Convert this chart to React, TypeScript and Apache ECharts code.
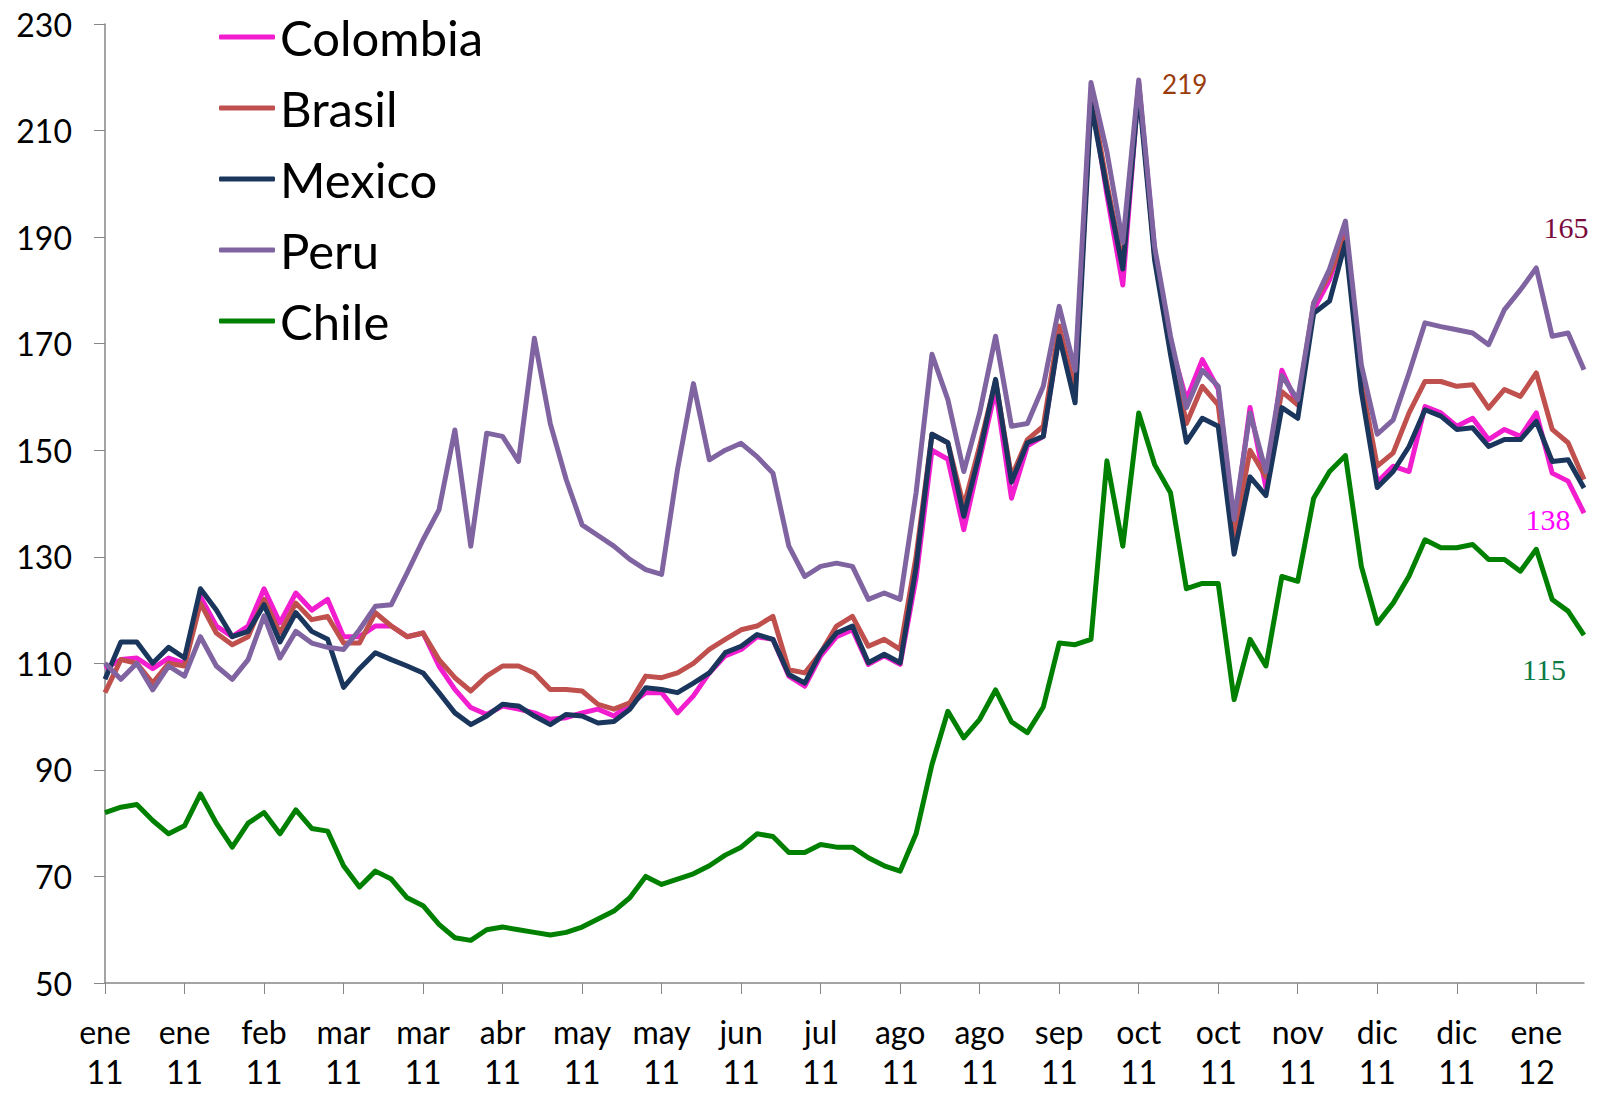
import React, { useEffect, useRef } from "react";
import * as echarts from "echarts";

const tickLabels = [
  "ene 11", "ene 11", "feb 11", "mar 11", "mar 11", "abr 11", "may 11", "may 11", "jun 11",
  "jul 11", "ago 11", "ago 11", "sep 11", "oct 11", "oct 11", "nov 11", "dic 11", "dic 11", "ene 12",
];

const colombia = [
  109, 110.7, 111, 109, 111, 110, 122.5, 117, 115, 117,
  124, 117.6, 123.2, 120, 122, 115, 115, 117, 117, 115,
  115.7, 109.5, 105.1, 101.7, 100.4, 102, 101.4, 100.7, 99.5, 99.8,
  100.7, 101.4, 100.1, 102.3, 104.5, 104.5, 100.7, 103.9, 108.2, 111.4,
  112.6, 115, 114.5, 107.6, 105.7, 111.4, 115, 116.3, 109.8, 111.4,
  109.8, 126, 150, 148.3, 135.1, 148.3, 161.4, 141, 150.8, 152.6,
  172, 160.7, 217, 198, 181, 218.5, 187.6, 170.1, 159.5, 167,
  161.5, 135.5, 158, 143, 165, 158.5, 176.4, 182, 191, 163.2,
  144, 147, 146, 158.2, 157, 154.5, 156, 152, 153.9, 152.6,
  157, 145.7, 144.2, 138.2,
];

const brasil = [
  104.5, 110.7, 110, 106.3, 110, 109.5, 121.3, 115.7, 113.5, 115,
  122, 115.7, 121.3, 118.2, 118.8, 113.8, 113.8, 119.5, 117, 115,
  115.7, 110.7, 107.3, 104.8, 107.6, 109.5, 109.5, 108.2, 105.1, 105.1,
  104.8, 102.3, 101.4, 102.6, 107.6, 107.3, 108.2, 110, 112.6, 114.5,
  116.3, 117, 118.8, 108.8, 108.2, 112, 117, 118.8, 113.2, 114.5,
  112.6, 130, 153, 151.4, 139.5, 150.8, 163, 145, 152, 154.5,
  173.3, 161.4, 217, 200, 185, 219, 186.4, 169.5, 155, 162,
  158.5, 134, 150, 145, 161, 158.5, 177.6, 183, 190, 163,
  147, 149.5, 157, 162.9, 162.9, 162, 162.3, 157.9, 161.4, 160.1,
  164.5, 153.9, 151.4, 144.5,
];

const mexico = [
  107, 114, 114, 110, 113, 111, 124, 120, 115, 116,
  121, 114, 119.5, 116, 114.5, 105.5, 109, 112, 110.7, 109.5,
  108.2, 104.5, 100.7, 98.5, 100.1, 102.3, 102, 100.1, 98.5, 100.4,
  100.1, 98.8, 99.1, 101.4, 105.4, 105.1, 104.5, 106.3, 108.2, 112,
  113.2, 115.4, 114.5, 107.9, 106.3, 112, 115.7, 117, 110.1, 111.7,
  110.1, 128, 153, 151.4, 137.6, 149.5, 163.3, 144, 151.4, 152.6,
  171.4, 158.9, 215, 199, 184, 217.6, 185.7, 168, 151.5, 156,
  154.5, 130.5, 145, 141.5, 158, 156, 175.7, 178, 189, 161,
  143, 146, 150.7, 157.6, 156.4, 153.9, 154.2, 150.7, 152, 152,
  155.4, 147.9, 148.2, 142.9,
];

const peru = [
  110, 107, 110, 105, 109.5, 107.6, 115, 109.5, 107, 110.7,
  118.9, 111, 116, 113.8, 113, 112.6, 116.3, 120.7, 121, 127,
  133.2, 138.8, 153.8, 132, 153.2, 152.6, 147.9, 171, 155, 144.5,
  136, 134, 132, 129.5, 127.6, 126.7, 146.4, 162.5, 148.2, 150,
  151.3, 148.8, 145.7, 132, 126.3, 128.2, 128.8, 128.2, 122, 123.2,
  122, 142, 168, 159.5, 146, 157, 171.4, 154.5, 155, 162,
  177, 165, 219, 206, 189, 219.5, 188.2, 171.4, 158, 165,
  162, 137, 157, 146, 164, 159.5, 177.6, 184, 193, 166,
  153, 155.7, 164.5, 173.9, 173.2, 172.6, 172, 169.8, 176.4, 180.1,
  184.2, 171.4, 172, 165.1,
];

const chile = [
  82, 83, 83.5, 80.5, 78, 79.5, 85.5, 80, 75.5, 80,
  82, 78, 82.5, 79, 78.5, 72, 68, 71, 69.5, 66,
  64.5, 61, 58.5, 58, 60, 60.5, 60, 59.5, 59, 59.5,
  60.5, 62, 63.5, 66, 70, 68.5, 69.5, 70.5, 72, 74,
  75.5, 78, 77.5, 74.5, 74.5, 76, 75.5, 75.5, 73.5, 72,
  71, 78, 91, 101, 96, 99.5, 105, 99, 97, 101.8,
  113.8, 113.5, 114.5, 148, 132, 157, 147.3, 142, 124, 125,
  125, 103.2, 114.5, 109.5, 126.3, 125.4, 141, 146, 149, 128.2,
  117.5, 121.3, 126.4, 133.2, 131.7, 131.7, 132.3, 129.5, 129.5, 127.3,
  131.4, 122, 119.8, 115.3,
];

const POINTS_PER_TICK = 5;
const categories = chile.map((_, i) => String(i));

function annotation(data: number[], idx: number, color: string, offset: number[], font: string, size: number) {
  return {
    symbol: "circle",
    symbolSize: 1,
    silent: true,
    itemStyle: { color: "rgba(0,0,0,0)" },
    data: [{ coord: [idx, data[idx]], value: data[idx] }],
    label: {
      show: true,
      position: "inside",
      offset,
      formatter: (p: any) => String(Math.round(p.value)),
      color,
      fontFamily: font,
      fontSize: size,
    },
  };
}

export default function App() {
  const ref = useRef<HTMLDivElement>(null);

  useEffect(() => {
    if (!ref.current) return;
    const chart = echarts.init(ref.current, undefined, { renderer: "svg" });
    const last = chile.length - 1;
    const mk = (name: string, data: number[], color: string, extra: any = {}) => ({
      name,
      type: "line",
      data,
      symbol: "none",
      showSymbol: false,
      lineStyle: { color, width: 5, join: "round" },
      itemStyle: { color },
      ...extra,
    });
    chart.setOption({
      animation: false,
      backgroundColor: "#ffffff",
      grid: { left: 105, right: 16, top: 24, bottom: 110, outerBoundsMode: "none", containLabel: false },
      legend: {
        orient: "vertical",
        left: 214,
        top: 6,
        icon: "roundRect",
        itemWidth: 56,
        itemHeight: 5,
        itemGap: 19,
        textStyle: { fontFamily: "Lato", fontSize: 49, lineHeight: 52, color: "#000" },
        data: ["Colombia", "Brasil", "Mexico", "Peru", "Chile"],
      },
      xAxis: {
        type: "category",
        boundaryGap: false,
        data: categories,
        axisLine: { lineStyle: { color: "#868686", width: 1.5 } },
        axisTick: { show: true, interval: POINTS_PER_TICK - 1, length: 11, lineStyle: { color: "#868686" } },
        axisLabel: {
          interval: POINTS_PER_TICK - 1,
          margin: 28,
          fontFamily: "Lato",
          fontSize: 32,
          lineHeight: 40,
          color: "#000",
          formatter: (_v: string, i: number) => {
            const t = tickLabels[Math.round(i / POINTS_PER_TICK)] || "";
            return t.replace(" ", "\n");
          },
        },
        splitLine: { show: false },
      },
      yAxis: {
        type: "value",
        min: 50,
        max: 230,
        interval: 20,
        axisLine: { show: true, lineStyle: { color: "#868686", width: 1.5 } },
        axisTick: { show: true, length: 11, lineStyle: { color: "#868686" } },
        axisLabel: { margin: 33, fontFamily: "Lato", fontSize: 32, color: "#000" },
        splitLine: { show: false },
      },
      series: [
        mk("Colombia", colombia, "#F21DCF", {
          markPoint: annotation(colombia, last, "#FF00FF", [-36, 6], "Liberation Serif", 30),
        }),
        mk("Brasil", brasil, "#C0504D", {
          markPoint: annotation(brasil, 65, "#9A3B0C", [46, 1], "Lato", 26),
        }),
        mk("Mexico", mexico, "#1B365D"),
        mk("Peru", peru, "#8064A2", {
          markPoint: annotation(peru, last, "#7A0A3C", [-18, -142], "Liberation Serif", 30),
        }),
        mk("Chile", chile, "#008000", {
          markPoint: annotation(chile, last, "#0A7A44", [-40, 34], "Liberation Serif", 30),
        }),
      ],
    });
    return () => chart.dispose();
  }, []);

  return (
    <div
      ref={ref}
      style={{ position: "fixed", left: 0, top: 0, width: 1600, height: 1093, background: "#fff" }}
    />
  );
}
